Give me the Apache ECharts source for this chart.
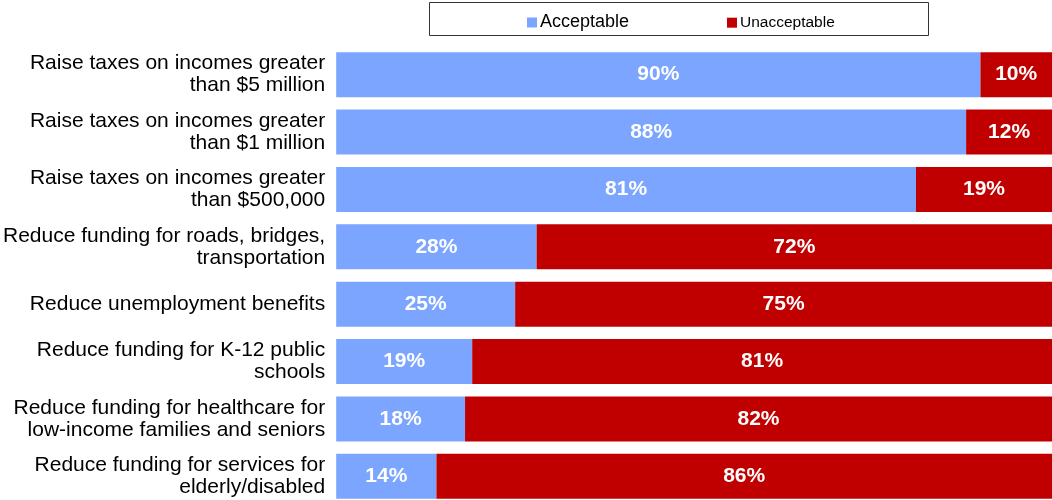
<!DOCTYPE html>
<html><head><meta charset="utf-8">
<script src="https://cdn.jsdelivr.net/npm/echarts@6/dist/echarts.min.js"></script>
<style>html,body{margin:0;padding:0;background:#fff;overflow:hidden}#c{width:1052px;height:512px}</style>
</head><body><div id="c"></div>
<script>
const categories = [
  "Raise taxes on incomes greater\nthan $5 million",
  "Raise taxes on incomes greater\nthan $1 million",
  "Raise taxes on incomes greater\nthan $500,000",
  "Reduce funding for roads, bridges,\ntransportation",
  "Reduce unemployment benefits",
  "Reduce funding for K-12 public\nschools",
  "Reduce funding for healthcare for\nlow-income families and seniors",
  "Reduce funding for services for\nelderly/disabled"
];
const acceptable = [90, 88, 81, 28, 25, 19, 18, 14];
const unacceptable = [10, 12, 19, 72, 75, 81, 82, 86];
const seriesNames = ["Acceptable", "Unacceptable"];

const FONT = '"Liberation Sans", Arial, sans-serif';
const chart = echarts.init(document.getElementById('c'), null, {renderer: 'canvas'});
const valueLabel = {
  show: true, position: 'inside', color: '#fff', fontWeight: 'bold',
  fontSize: 21, fontFamily: FONT, formatter: '{c}%'
};
chart.setOption({
  animation: false,
  backgroundColor: '#fff',
  graphic: [{
    type: 'rect',
    shape: {x: 429.5, y: 2.5, width: 499, height: 33},
    style: {fill: 'none', stroke: '#333', lineWidth: 1}, z: 0
  }],
  legend: [
    {data: [seriesNames[0]], left: 527, top: 13.5, padding: 0, itemWidth: 10, itemHeight: 10, itemGap: 0,
     icon: 'rect', textStyle: {fontSize: 18, fontFamily: FONT, color: '#000', padding: [0,0,0,-2]}},
    {data: [seriesNames[1]], left: 727, top: 14.7, padding: 0, itemWidth: 10, itemHeight: 10, itemGap: 0,
     icon: 'rect', textStyle: {fontSize: 15.5, fontFamily: FONT, color: '#000', padding: [0,0,0,-2]}}
  ],
  grid: {left: 336, right: 0, top: 46, height: 459, containLabel: false},
  xAxis: {type: 'value', min: 0, max: 100, show: false, splitLine: {show: false}},
  yAxis: {
    type: 'category', data: categories, inverse: true,
    axisLine: {show: false}, axisTick: {show: false},
    axisLabel: {fontSize: 21, fontFamily: FONT, color: '#000', margin: 11, align: 'right', lineHeight: 22}
  },
  series: [
    {name: seriesNames[0], type: 'bar', stack: 'a', data: acceptable, barWidth: 45,
     itemStyle: {color: '#7BA5FF'}, label: valueLabel},
    {name: seriesNames[1], type: 'bar', stack: 'a', data: unacceptable, barWidth: 45,
     itemStyle: {color: '#C00000'}, label: valueLabel}
  ]
});
</script></body></html>
